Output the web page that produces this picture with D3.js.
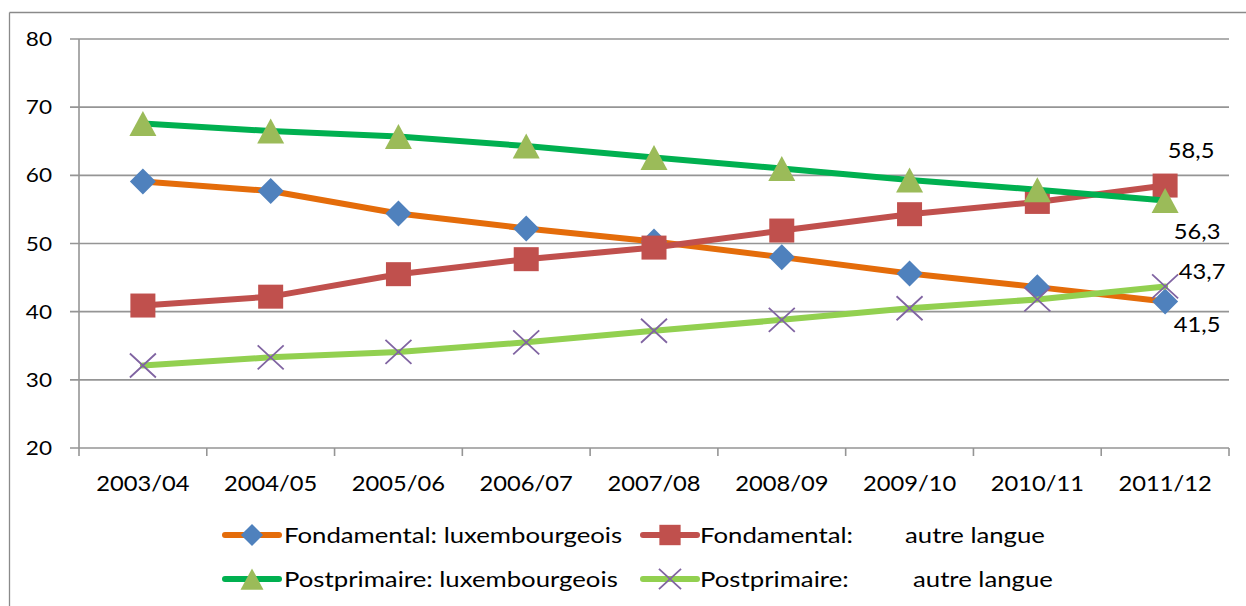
<!DOCTYPE html>
<html>
<head>
<meta charset="utf-8">
<script src="https://cdn.jsdelivr.net/npm/d3@7"></script>
<style>
  html, body { margin: 0; padding: 0; background: #fff; }
  svg { display: block; }
  text { font-family: Lato, "Open Sans", sans-serif; fill: #000; }
</style>
</head>
<body>
<svg id="chart" width="1246" height="606"></svg>
<script>
// ---- data ----
const categories = ["2003/04","2004/05","2005/06","2006/07","2007/08","2008/09","2009/10","2010/11","2011/12"];
const fondLux   = [59.1, 57.7, 54.4, 52.2, 50.3, 48.0, 45.6, 43.6, 41.5];
const fondAutre = [40.9, 42.2, 45.5, 47.7, 49.4, 51.9, 54.3, 56.1, 58.5];
const postLux   = [67.6, 66.5, 65.7, 64.3, 62.6, 61.0, 59.3, 57.9, 56.3];
const postAutre = [32.1, 33.3, 34.1, 35.5, 37.2, 38.8, 40.5, 41.8, 43.7];
const yTicks = [20, 30, 40, 50, 60, 70, 80];
const seriesNames = ["Fondamental: luxembourgeois", "Fondamental:", "Postprimaire: luxembourgeois", "Postprimaire:"];
const seriesSuffix = ["", "autre langue", "", "autre langue"];
const lastLabels = ["41,5", "58,5", "56,3", "43,7"];

// ---- styles ----
const series = [
  { values: fondLux,   line: "#E46C0A", marker: "diamond",  mfill: "#4F81BD", label: {dx: 32, dy: 31} },
  { values: fondAutre, line: "#C0504D", marker: "square",   mfill: "#C0504D", label: {dx: 26, dy: -28} },
  { values: postLux,   line: "#00B050", marker: "triangle", mfill: "#9BBB59", label: {dx: 32, dy: 38.5} },
  { values: postAutre, line: "#92D050", marker: "x",        mfill: "#8064A2", label: {dx: 37, dy: -7} }
];
const SX = 1.13;
const SXL = 1.17;

const svg = d3.select("#chart");
const pL = 79, pR = 1229, pT = 39, pB = 448;

const x = d3.scaleBand().domain(categories).range([pL, pR]).paddingInner(0).paddingOuter(0);
const xc = d => x(d) + x.bandwidth() / 2;
const y = d3.scaleLinear().domain([20, 80]).range([pB, pT]);

// frame (top + left edges visible)
svg.append("line").attr("x1", 9.5).attr("x2", 1246).attr("y1", 12.5).attr("y2", 12.5)
  .attr("stroke", "#8a8a8a").attr("stroke-width", 1.3);
svg.append("line").attr("x1", 9.5).attr("x2", 9.5).attr("y1", 12.5).attr("y2", 606)
  .attr("stroke", "#8a8a8a").attr("stroke-width", 1.3);

// gridlines
svg.append("g").selectAll("line").data(yTicks).join("line")
  .attr("x1", pL - 9).attr("x2", pR)
  .attr("y1", d => y(d)).attr("y2", d => y(d))
  .attr("stroke", "#959595").attr("stroke-width", 1.6);

// y axis line
svg.append("line").attr("x1", pL).attr("x2", pL).attr("y1", pT).attr("y2", pB)
  .attr("stroke", "#959595").attr("stroke-width", 1.6);

// x axis ticks at band boundaries
const bounds = categories.map(c => x(c)).concat([pR]);
svg.append("g").selectAll("line").data(bounds).join("line")
  .attr("x1", d => d).attr("x2", d => d).attr("y1", pB).attr("y2", pB + 8)
  .attr("stroke", "#959595").attr("stroke-width", 1.6);

// y labels
svg.append("g").selectAll("text").data(yTicks).join("text")
  .attr("transform", d => `translate(52,${y(d) + 7}) scale(${SX},1)`)
  .attr("text-anchor", "end").attr("font-size", 20).text(d => d);

// x labels
svg.append("g").selectAll("text").data(categories).join("text")
  .attr("transform", d => `translate(${xc(d)},${491}) scale(${SX},1)`)
  .attr("text-anchor", "middle").attr("font-size", 21).text(d => d);

function drawMarker(g, type, fill, cx, cy, s) {
  s = s || 1;
  if (type === "diamond") {
    const r = 13 * s;
    g.append("path").attr("d", `M${cx},${cy - r}L${cx + r},${cy}L${cx},${cy + r}L${cx - r},${cy}Z`).attr("fill", fill);
  } else if (type === "square") {
    const w = 25 * s, h = 24 * s;
    g.append("rect").attr("x", cx - w / 2).attr("y", cy - h / 2).attr("width", w).attr("height", h).attr("fill", fill);
  } else if (type === "triangle") {
    const w = 27 * s, h = 25 * s;
    g.append("path").attr("d", `M${cx},${cy - h / 2}L${cx + w / 2},${cy + h / 2}L${cx - w / 2},${cy + h / 2}Z`).attr("fill", fill);
  } else if (type === "x") {
    const w = 13 * s, h = 12 * s;
    g.append("path").attr("d", `M${cx - w},${cy - h}L${cx + w},${cy + h}M${cx - w},${cy + h}L${cx + w},${cy - h}`)
      .attr("stroke", fill).attr("stroke-width", 1.8).attr("fill", "none");
  }
}

const lineGen = d3.line().x((d, i) => xc(categories[i])).y(d => y(d));

series.forEach(s => {
  const g = svg.append("g");
  g.append("path").attr("d", lineGen(s.values)).attr("fill", "none")
    .attr("stroke", s.line).attr("stroke-width", 6).attr("stroke-linejoin", "round").attr("stroke-linecap", "round");
  s.values.forEach((v, i) => drawMarker(g, s.marker, s.mfill, xc(categories[i]), y(v)));
});

// data labels on last point
series.forEach((s, k) => {
  const n = s.values.length - 1;
  const px = xc(categories[n]), py = y(s.values[n]);
  svg.append("text")
    .attr("transform", `translate(${px + s.label.dx},${py + s.label.dy}) scale(${SX},1)`)
    .attr("text-anchor", "middle").attr("font-size", 21).text(lastLabels[k]);
});

// legend
const legendPos = [
  { lx: 222, ly: 535, tx: 284, sx: null },
  { lx: 640, ly: 535, tx: 700, sx: 905 },
  { lx: 222, ly: 579, tx: 284, sx: null },
  { lx: 640, ly: 579, tx: 700, sx: 913 }
];
series.forEach((s, k) => {
  const p = legendPos[k];
  const g = svg.append("g");
  g.append("line").attr("x1", p.lx + 3).attr("x2", p.lx + 57).attr("y1", p.ly).attr("y2", p.ly)
    .attr("stroke", s.line).attr("stroke-width", 6).attr("stroke-linecap", "round");
  drawMarker(g, s.marker, s.mfill, p.lx + 30, p.ly, 0.85);
  const t = g.append("text").attr("transform", `translate(${p.tx},${p.ly + 8}) scale(${SXL},1)`)
    .attr("font-size", 22);
  t.append("tspan").text(seriesNames[k]);
  if (seriesSuffix[k]) {
    t.append("tspan").attr("x", (p.sx - p.tx) / SXL).text(seriesSuffix[k]);
  }
});
</script>
</body>
</html>
